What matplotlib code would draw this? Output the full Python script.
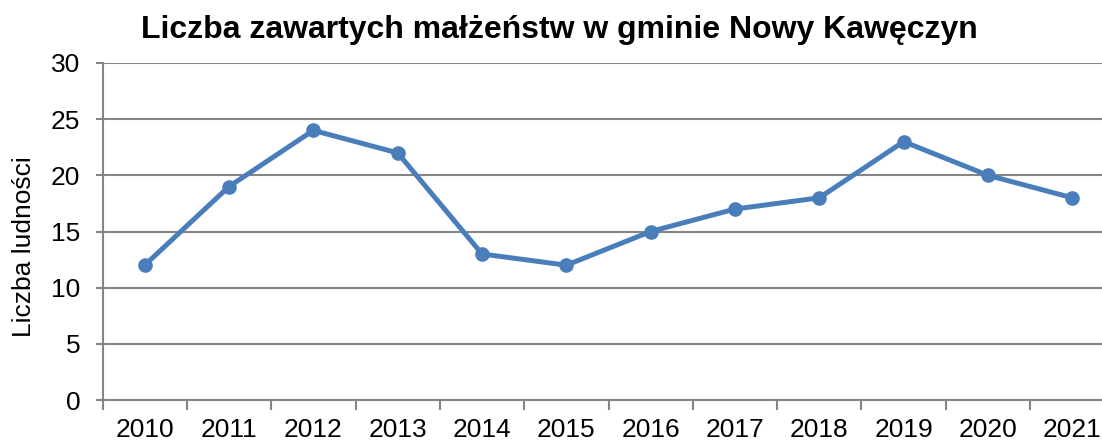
import numpy as np
import matplotlib
matplotlib.use('Agg')
from matplotlib import pyplot as plt

lata = ['2010', '2011', '2012', '2013', '2014', '2015', '2016', '2017', '2018', '2019', '2020', '2021']
malzenstwa = [12, 19, 24, 22, 13, 12, 15, 17, 18, 23, 20, 18]

plt.rcParams['font.family'] = ['Liberation Sans', 'DejaVu Sans']

fig = plt.figure(figsize=(11.02, 4.42), dpi=100)
# os wychodzi poza prawa krawedz obrazka, tak jak w oryginale
ax = fig.add_axes([102.5/1102, 42/442, 1012/1102, 337/442])

x = np.arange(len(lata))
ax.plot(x, malzenstwa, '-o', color='#4A7EBB', lw=3.6, ms=9.5, zorder=3)

ax.set_xlim(-0.5, len(lata) - 0.5)
ax.set_ylim(0, 30)
ax.set_yticks(range(0, 31, 5))
ax.set_xticks(x)
ax.set_xticklabels(lata)
ax.set_xticks(np.arange(-0.5, len(lata), 1), minor=True)
ax.tick_params(axis='x', which='major', length=0, labelsize=19, pad=13)
ax.tick_params(axis='x', which='minor', length=7, width=1.5, color='#868686')
ax.tick_params(axis='y', length=5, width=1.5, color='#868686', labelsize=19, pad=11)

ax.yaxis.grid(True, color='#868686', lw=1.5)
ax.set_axisbelow(True)
for s in ['top', 'right']:
    ax.spines[s].set_visible(False)
for s in ['left', 'bottom']:
    ax.spines[s].set_color('#868686')
    ax.spines[s].set_linewidth(1.5)

ax.set_ylabel('Liczba ludności', fontsize=19, va='center')
ax.yaxis.set_label_coords(-78/1012, 0.455)
fig.text(0.508, 1 - 38/442, 'Liczba zawartych małżeństw w gminie Nowy Kawęczyn',
         ha='center', va='baseline', fontsize=23, fontweight='bold')

plt.savefig('out.png', dpi=100)
